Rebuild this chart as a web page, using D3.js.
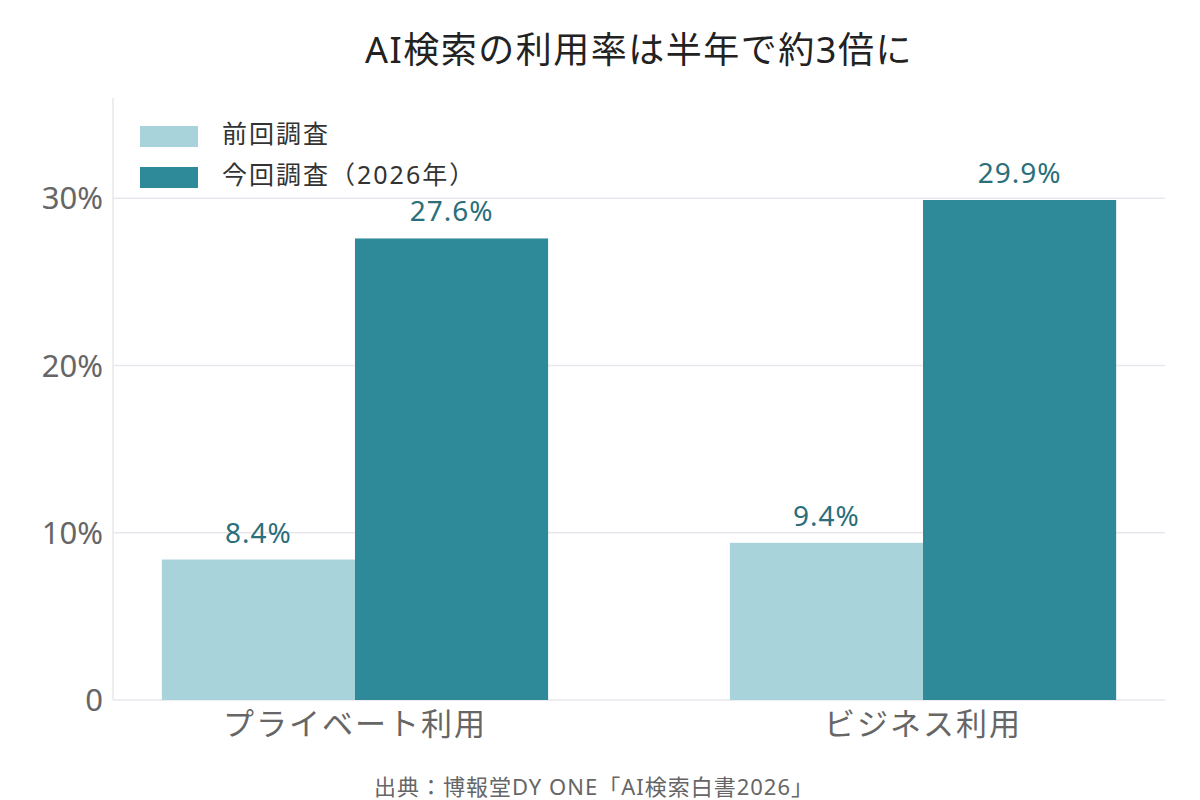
<!DOCTYPE html>
<html>
<head>
<meta charset="utf-8">
<script src="https://cdn.jsdelivr.net/npm/d3@7"></script>
<style>
  body { margin: 0; background: #fff; }
  svg { font-family: "Noto Sans", "Noto Sans CJK JP", sans-serif; }
</style>
</head>
<body>
<div id="chart"></div>
<script>
// data
var categories = ["プライベート利用", "ビジネス利用"];
var seriesNames = ["前回調査", "今回調査（2026年）"];
var previous = [8.4, 9.4];
var current = [27.6, 29.9];
var yTicks = [0, 10, 20, 30];
var colors = ["#a9d3da", "#2e8999"];

var width = 1200, height = 800;
var margin = { top: 98, right: 35, bottom: 100, left: 113 };

var svg = d3.select("#chart").append("svg")
  .attr("width", width)
  .attr("height", height);

var x0 = d3.scaleBand()
  .domain(categories)
  .range([margin.left, width - margin.right])
  .paddingInner(0.32)
  .paddingOuter(0.086);

var x1 = d3.scaleBand()
  .domain(seriesNames)
  .range([0, x0.bandwidth()]);

var y = d3.scaleLinear()
  .domain([0, 36])
  .range([height - margin.bottom, margin.top]);

// gridlines
svg.append("g")
  .selectAll("line")
  .data(yTicks)
  .enter()
  .append("line")
  .attr("x1", margin.left)
  .attr("x2", width - margin.right)
  .attr("y1", function(d) { return y(d); })
  .attr("y2", function(d) { return y(d); })
  .attr("stroke", "#e9e7ee")
  .attr("stroke-width", 1.5);

// left axis line
svg.append("line")
  .attr("x1", margin.left).attr("x2", margin.left)
  .attr("y1", y(36)).attr("y2", y(0))
  .attr("stroke", "#e9e7ee")
  .attr("stroke-width", 1.5);

// y tick labels
svg.append("g")
  .selectAll("text")
  .data(yTicks)
  .enter()
  .append("text")
  .attr("x", margin.left - 10)
  .attr("y", function(d) { return y(d); })
  .attr("dy", "0.36em")
  .attr("text-anchor", "end")
  .attr("font-size", 31)
  .attr("fill", "#666")
  .text(function(d) { return d === 0 ? "0" : d + "%"; });

// bars
var rows = categories.map(function(c, i) {
  return { cat: c, values: [previous[i], current[i]] };
});

var groups = svg.append("g")
  .selectAll("g")
  .data(rows)
  .enter()
  .append("g")
  .attr("transform", function(d) { return "translate(" + x0(d.cat) + ",0)"; });

groups.selectAll("rect")
  .data(function(d) { return d.values.map(function(v, j) { return { s: seriesNames[j], v: v, j: j }; }); })
  .enter()
  .append("rect")
  .attr("x", function(d) { return x1(d.s); })
  .attr("y", function(d) { return y(d.v); })
  .attr("width", x1.bandwidth())
  .attr("height", function(d) { return y(0) - y(d.v); })
  .attr("fill", function(d) { return colors[d.j]; });

groups.selectAll("text")
  .data(function(d) { return d.values.map(function(v, j) { return { s: seriesNames[j], v: v }; }); })
  .enter()
  .append("text")
  .attr("x", function(d) { return x1(d.s) + x1.bandwidth() / 2; })
  .attr("y", function(d) { return y(d.v) - 17; })
  .attr("text-anchor", "middle")
  .attr("font-size", 28)
  .attr("letter-spacing", 1)
  .attr("fill", "#2a6f7b")
  .text(function(d) { return d.v.toFixed(1) + "%"; });

// category labels
svg.append("g")
  .selectAll("text")
  .data(categories)
  .enter()
  .append("text")
  .attr("x", function(d) { return x0(d) + x0.bandwidth() / 2; })
  .attr("y", y(0) + 35)
  .attr("text-anchor", "middle")
  .attr("font-size", 31)
  .attr("letter-spacing", 2)
  .attr("fill", "#666")
  .text(function(d) { return d; });

// legend
var legend = svg.append("g")
  .selectAll("g")
  .data(seriesNames)
  .enter()
  .append("g")
  .attr("transform", function(d, i) { return "translate(140," + (126 + i * 41) + ")"; });

legend.append("rect")
  .attr("width", 58)
  .attr("height", 21)
  .attr("fill", function(d, i) { return colors[i]; });

legend.append("text")
  .attr("x", 82)
  .attr("y", 8)
  .attr("dy", "0.36em")
  .attr("font-size", 25)
  .attr("letter-spacing", 2)
  .attr("fill", "#333")
  .text(function(d) { return d; });

// title
svg.append("text")
  .attr("x", (margin.left + width - margin.right) / 2)
  .attr("y", 63)
  .attr("text-anchor", "middle")
  .attr("font-size", 36)
  .attr("letter-spacing", 1.5)
  .attr("fill", "#222")
  .text("AI検索の利用率は半年で約3倍に");

// source
svg.append("text")
  .attr("x", 594)
  .attr("y", 795)
  .attr("text-anchor", "middle")
  .attr("font-size", 22)
  .attr("letter-spacing", 1)
  .attr("fill", "#666")
  .text("出典：博報堂DY ONE「AI検索白書2026」");
</script>
</body>
</html>
